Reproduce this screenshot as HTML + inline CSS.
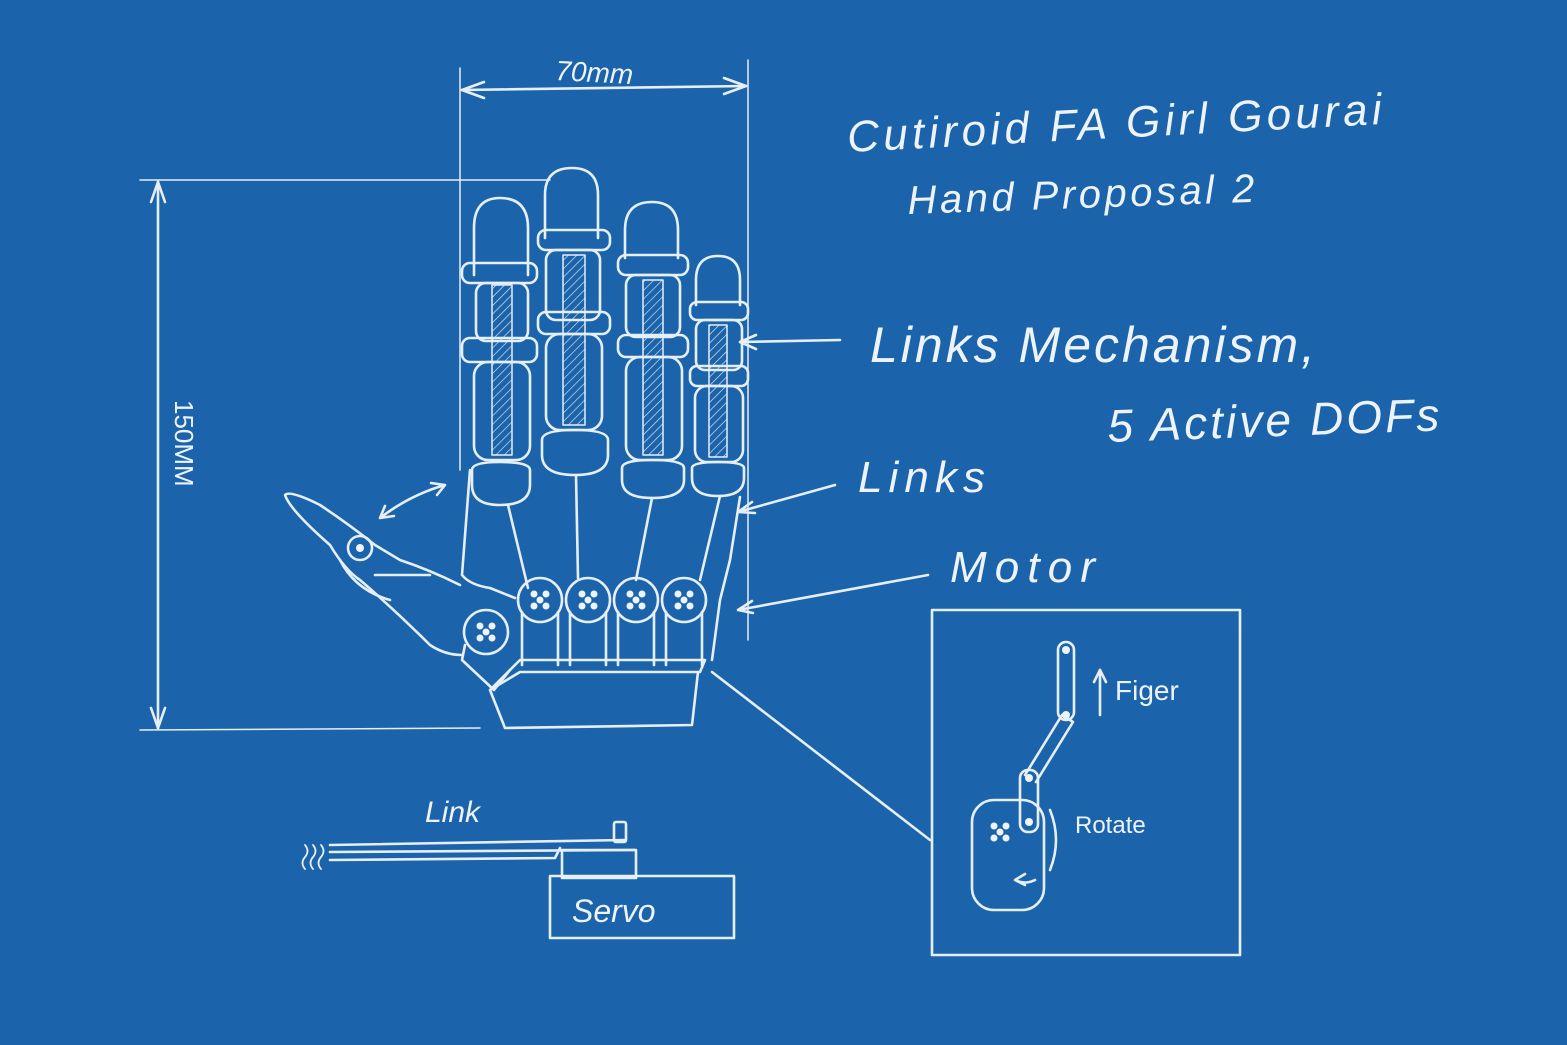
<!DOCTYPE html>
<html><head><meta charset="utf-8"><style>
html,body{margin:0;padding:0;background:#1b64ab;}
svg{display:block}
text{font-family:"Liberation Sans",sans-serif;fill:#eef3f9;}
</style></head><body>
<svg width="1567" height="1045" viewBox="0 0 1567 1045" xmlns="http://www.w3.org/2000/svg">
<defs>
<pattern id="h" width="6" height="6" patternUnits="userSpaceOnUse" patternTransform="rotate(45)">
<line x1="0" y1="0" x2="0" y2="6" stroke="#dfe8f2" stroke-width="1.3"/>
</pattern>
<g id="d" fill="#eef3f9"><circle r="3.5" cx="-6" cy="-6"/><circle r="3.5" cx="6" cy="-6"/><circle r="3.5" cx="-6" cy="6"/><circle r="3.5" cx="6" cy="6"/><circle r="3.5" cx="0" cy="0"/></g>
</defs>
<rect width="1567" height="1045" fill="#1b64ab"/>
<g fill="none" stroke="#e6eef7" stroke-width="2.6" stroke-linecap="round" stroke-linejoin="round">
<line x1="460" y1="68" x2="460" y2="470" stroke-width="1.5"/>
<line x1="748" y1="60" x2="748" y2="640" stroke-width="1.5"/>
<line x1="462" y1="90" x2="746" y2="86"/>
<path d="M462 90 l22 -8 M462 90 l22 8 M746 86 l-22 -8 M746 86 l-22 8"/>
<line x1="140" y1="180" x2="550" y2="180" stroke-width="1.5"/>
<line x1="140" y1="730" x2="480" y2="728" stroke-width="1.5"/>
<line x1="158" y1="182" x2="158" y2="728"/>
<path d="M158 182 l-7 20 M158 182 l7 20 M158 728 l-7 -20 M158 728 l7 -20"/>
<path d="M474 275 L474 228 Q474 198 500 198 Q528 198 528 228 L528 275"/>
<rect x="462" y="263" width="75" height="20" rx="8"/>
<rect x="476" y="283" width="52" height="58" rx="10"/>
<rect x="462" y="338" width="75" height="24" rx="8"/>
<rect x="474" y="362" width="56" height="98" rx="14"/>
<rect x="492" y="285" width="20" height="170" fill="url(#h)" stroke-width="1.5"/>
<path d="M472 470 Q472 462 500 462 Q530 462 530 470 L530 485 Q530 505 500 505 Q472 505 472 485Z"/>
<path d="M545 238 L545 195 Q545 168 572 168 Q598 168 598 195 L598 238"/>
<rect x="538" y="230" width="72" height="20" rx="8"/>
<rect x="546" y="250" width="54" height="70" rx="10"/>
<rect x="538" y="312" width="72" height="22" rx="8"/>
<rect x="546" y="334" width="56" height="96" rx="14"/>
<rect x="563" y="255" width="22" height="170" fill="url(#h)" stroke-width="1.5"/>
<path d="M542 440 Q542 430 575 430 Q608 430 608 440 L608 455 Q608 475 575 475 Q542 475 542 455Z"/>
<path d="M625 258 L625 230 Q625 202 652 202 Q678 202 678 230 L678 258"/>
<rect x="618" y="255" width="70" height="20" rx="8"/>
<rect x="626" y="275" width="54" height="62" rx="10"/>
<rect x="618" y="335" width="70" height="22" rx="8"/>
<rect x="626" y="357" width="56" height="103" rx="14"/>
<rect x="643" y="280" width="20" height="175" fill="url(#h)" stroke-width="1.5"/>
<path d="M622 468 Q622 460 652 460 Q684 460 684 468 L684 480 Q684 498 652 498 Q622 498 622 480Z"/>
<path d="M696 305 L696 280 Q696 256 718 256 Q740 256 740 280 L740 305"/>
<rect x="690" y="302" width="58" height="18" rx="7"/>
<rect x="696" y="320" width="46" height="50" rx="9"/>
<rect x="690" y="366" width="58" height="20" rx="7"/>
<rect x="695" y="386" width="48" height="76" rx="12"/>
<rect x="709" y="325" width="18" height="132" fill="url(#h)" stroke-width="1.5"/>
<path d="M692 468 Q692 462 718 462 Q744 462 744 468 L744 478 Q744 496 718 496 Q692 496 692 478Z"/>
<path d="M508 505 L528 588 M576 475 L578 578 M652 498 L636 580 M720 496 L700 580"/>
<path d="M470 470 L462 575 Q470 585 490 588 L515 598"/>
<path d="M740 497 L730 560 L720 600 L712 660"/>
<circle cx="540" cy="600" r="22"/><circle cx="588" cy="600" r="22"/><circle cx="636" cy="600" r="22"/><circle cx="684" cy="600" r="22"/>
<circle cx="486" cy="632" r="22"/>
<path d="M522 612 L522 665 M558 612 L558 665 M570 612 L570 665 M606 612 L606 665 M618 612 L618 665 M654 612 L654 665 M666 612 L666 665 M702 612 L702 665"/>
<path d="M465 645 L462 660 L494 690 L510 670"/>
<path d="M490 690 L520 660 L705 660 L700 672 L520 672 L490 690 L505 728 L692 725 L698 672"/>
<path d="M460 585 Q430 570 400 560 L375 545 Q350 525 320 505 Q290 490 285 495 Q290 510 330 545 Q345 570 360 580 Q395 610 430 645 Q445 655 462 655"/>
<path d="M340 560 Q355 590 390 600 M375 575 L430 575"/>
<circle cx="360" cy="548" r="12"/>
<path d="M380 518 Q410 495 445 485 M380 518 l14 -2 M380 518 l5 -12 M445 485 l-14 -2 M445 485 l-8 10"/>
<path d="M840 340 L740 342 M740 342 l16 -7 M740 342 l16 7"/>
<path d="M835 485 L738 512 M738 512 l14 -10 M738 512 l17 1"/>
<path d="M928 575 L738 610 M738 610 l14 -9 M738 610 l15 3"/>
<path d="M712 672 L930 840"/>
<rect x="932" y="610" width="308" height="345"/>
<rect x="972" y="800" width="72" height="110" rx="22"/>
<rect x="1020" y="770" width="18" height="62" rx="8"/>
<path d="M1025 775 L1062 715 L1073 722 L1036 782"/>
<rect x="1058" y="642" width="16" height="78" rx="8"/>
<line x1="1100" y1="715" x2="1100" y2="670"/><path d="M1100 670 l-6 12 M1100 670 l6 12"/>
<path d="M1050 810 Q1062 840 1050 870 M1035 880 Q1025 885 1015 880 M1015 880 l10 -6 M1015 880 l10 5"/>
<path d="M330 845 L625 840 M330 852 L635 850 M330 860 L555 858 L560 848"/>
<path d="M305 845 q5 6 0 12 q-5 6 0 12 M313 845 q5 6 0 12 q-5 6 0 12 M321 845 q5 6 0 12 q-5 6 0 12" stroke-width="1.8"/>
<rect x="614" y="822" width="12" height="20" rx="2"/>
<rect x="562" y="850" width="74" height="28"/>
<rect x="550" y="876" width="184" height="62"/>
</g>
<g fill="#eef3f9">
<circle cx="360" cy="548" r="4"/>
<use href="#d" x="540" y="600"/><use href="#d" x="588" y="600"/><use href="#d" x="636" y="600"/><use href="#d" x="684" y="600"/><use href="#d" x="486" y="632"/>
<use href="#d" x="1000" y="832"/>
<circle cx="1029" cy="822" r="4"/><circle cx="1029" cy="778" r="4"/><circle cx="1066" cy="715" r="4"/><circle cx="1066" cy="650" r="4"/>
</g>
<text x="555" y="80" font-size="28" font-style="italic" transform="rotate(3 555 80)">70mm</text>
<text x="175" y="400" font-size="26" transform="rotate(90 175 400)">150MM</text>
<text x="848" y="152" font-size="44" font-style="italic" textLength="535" lengthAdjust="spacing" transform="rotate(-3 848 152)">Cutiroid FA Girl Gourai</text>
<text x="908" y="214" font-size="40" font-style="italic" textLength="347" lengthAdjust="spacing" transform="rotate(-2 908 214)">Hand Proposal 2</text>
<text x="870" y="362" font-size="50" font-style="italic" textLength="445" lengthAdjust="spacing">Links Mechanism,</text>
<text x="1108" y="442" font-size="46" font-style="italic" textLength="332" lengthAdjust="spacing" transform="rotate(-2 1108 442)">5 Active DOFs</text>
<text x="858" y="492" font-size="44" font-style="italic" textLength="127" lengthAdjust="spacing">Links</text>
<text x="950" y="582" font-size="44" font-style="italic" textLength="145" lengthAdjust="spacing">Motor</text>
<text x="1115" y="700" font-size="28">Figer</text>
<text x="1075" y="833" font-size="24">Rotate</text>
<text x="425" y="822" font-size="30" font-style="italic">Link</text>
<text x="572" y="922" font-size="32" font-style="italic">Servo</text>
</svg>
</body></html>
